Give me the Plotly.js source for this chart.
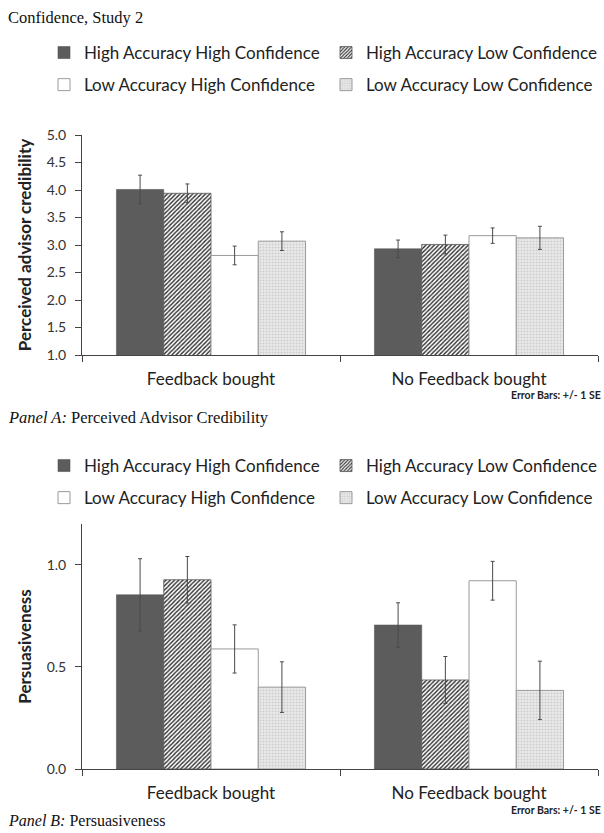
<!DOCTYPE html>
<html>
<head>
<meta charset="utf-8">
<script src="https://cdn.plot.ly/plotly-3.0.1.min.js"></script>
<style>
  html, body { margin: 0; padding: 0; background: #fff; }
  #chart { width: 604px; height: 833px; }
</style>
</head>
<body>
<div id="chart"></div>
<script>
// ---- data ----
const categories = ["Feedback bought", "No Feedback bought"];
const seriesNames = [
  "High Accuracy High Confidence",
  "High Accuracy Low Confidence",
  "Low Accuracy High Confidence",
  "Low Accuracy Low Confidence"
];
// Panel A: Perceived advisor credibility
const credHAHC = [4.01, 2.93];
const credHALC = [3.94, 3.01];
const credLAHC = [2.81, 3.17];
const credLALC = [3.07, 3.13];
const credErrHAHC = [0.26, 0.16];
const credErrHALC = [0.17, 0.17];
const credErrLAHC = [0.17, 0.14];
const credErrLALC = [0.17, 0.21];
// Panel B: Persuasiveness
const persHAHC = [0.853, 0.705];
const persHALC = [0.927, 0.436];
const persLAHC = [0.588, 0.922];
const persLALC = [0.401, 0.385];
const persErrHAHC = [0.177, 0.109];
const persErrHALC = [0.114, 0.115];
const persErrLAHC = [0.118, 0.095];
const persErrLALC = [0.124, 0.143];
const credTicks = [1, 1.5, 2, 2.5, 3, 3.5, 4, 4.5, 5];
const persTicks = [0, 0.5, 1];

// ---- styles ----
const styles = [
  { color: "#5c5c5c", line: { color: "#555", width: 0.6 } },
  { color: "#ffffff", line: { color: "#555", width: 0.8 },
    pattern: { shape: "/", fgcolor: "#2e2e2e", bgcolor: "#ffffff", size: 3, solidity: 0.45 } },
  { color: "#ffffff", line: { color: "#9a9a9a", width: 1 } },
  { color: "#e6e6e6", line: { color: "#9a9a9a", width: 1 },
    pattern: { shape: ".", fgcolor: "#cdcdcd", bgcolor: "#ebebeb", size: 3, solidity: 0.4 } }
];

const W = 604, H = 833;
const px = v => v / W;
const py = v => 1 - v / H;

// column 1 (legend / legend3): series 0 and 2; column 2 (legend2 / legend4): series 1 and 3
function mk(vals, errs, i, xa, ya, panelB) {
  const col2 = (i === 1 || i === 3);
  const legendId = panelB ? (col2 ? "legend4" : "legend3") : (col2 ? "legend2" : "legend");
  return {
    type: "bar",
    name: seriesNames[i],
    x: categories,
    y: vals,
    xaxis: xa, yaxis: ya,
    legend: legendId,
    legendgroup: (panelB ? "B" : "A") + i,
    marker: styles[i],
    error_y: { type: "data", array: errs, visible: true, color: "#4a4a4a", thickness: 1, width: 2 },
    hoverinfo: "y"
  };
}

const data = [
  mk(credHAHC, credErrHAHC, 0, "x", "y", false),
  mk(credHALC, credErrHALC, 1, "x", "y", false),
  mk(credLAHC, credErrLAHC, 2, "x", "y", false),
  mk(credLALC, credErrLALC, 3, "x", "y", false),
  mk(persHAHC, persErrHAHC, 0, "x2", "y2", true),
  mk(persHALC, persErrHALC, 1, "x2", "y2", true),
  mk(persLAHC, persErrLAHC, 2, "x2", "y2", true),
  mk(persLALC, persErrLALC, 3, "x2", "y2", true)
];

const sans = "Lato, 'Open Sans', sans-serif";
const serif = "'Liberation Serif', 'DejaVu Serif', serif";

const xCommon = {
  type: "category",
  domain: [px(82), px(598)],
  range: [-0.5, 1.5],
  tickson: "boundaries",
  ticks: "outside",
  ticklen: 6,
  tickcolor: "#444",
  ticklabelstandoff: 9,
  showline: true,
  linecolor: "#444",
  linewidth: 1,
  showgrid: false,
  zeroline: false,
  tickfont: { family: sans, size: 17, color: "#222" },
  fixedrange: true
};
const yCommon = {
  ticks: "outside",
  ticklen: 6,
  tickcolor: "#444",
  ticklabelstandoff: 6,
  showline: true,
  linecolor: "#444",
  linewidth: 1,
  showgrid: false,
  zeroline: false,
  tickformat: ".1f",
  tickfont: { family: sans, size: 14, color: "#333" },
  fixedrange: true
};

const legendCommon = {
  orientation: "v",
  xanchor: "left",
  yanchor: "top",
  font: { family: sans, size: 17, color: "#222" },
  bgcolor: "rgba(0,0,0,0)",
  borderwidth: 0,
  itemclick: false,
  itemdoubleclick: false,
  traceorder: "grouped",
  tracegroupgap: 7,
  itemwidth: 30
};

const layout = {
  width: W, height: H,
  margin: { l: 0, r: 0, t: 0, b: 0 },
  paper_bgcolor: "#fff",
  plot_bgcolor: "#fff",
  barmode: "group",
  bargap: 0.267,
  bargroupgap: 0,
  showlegend: true,
  xaxis: Object.assign({}, xCommon, { anchor: "y" }),
  yaxis: Object.assign({}, yCommon, {
    anchor: "x",
    domain: [py(355), py(135)],
    range: [1, 5],
    tickvals: credTicks,
    title: { text: "<b>Perceived advisor credibility</b>", font: { family: sans, size: 17, color: "#222" }, standoff: 10 }
  }),
  xaxis2: Object.assign({}, xCommon, { anchor: "y2" }),
  yaxis2: Object.assign({}, yCommon, {
    anchor: "x2",
    domain: [py(769), py(524)],
    range: [0, 1.2],
    tickvals: persTicks,
    title: { text: "<b>Persuasiveness</b>", font: { family: sans, size: 17, color: "#222" }, standoff: 10 }
  }),
  legend: Object.assign({}, legendCommon, { x: px(44), y: py(35) }),
  legend2: Object.assign({}, legendCommon, { x: px(326), y: py(35) }),
  legend3: Object.assign({}, legendCommon, { x: px(44), y: py(448) }),
  legend4: Object.assign({}, legendCommon, { x: px(326), y: py(448) }),
  annotations: [
    { text: "Confidence, Study 2", xref: "paper", yref: "paper", x: px(6), y: py(17),
      xanchor: "left", yanchor: "middle", showarrow: false,
      font: { family: serif, size: 16.5, color: "#111" } },
    { text: "<i>Panel A:</i> Perceived Advisor Credibility", xref: "paper", yref: "paper", x: px(6), y: py(417),
      xanchor: "left", yanchor: "middle", showarrow: false,
      font: { family: serif, size: 16.5, color: "#111" } },
    { text: "<i>Panel B:</i> Persuasiveness", xref: "paper", yref: "paper", x: px(6), y: py(831),
      xanchor: "left", yanchor: "bottom", showarrow: false,
      font: { family: serif, size: 16, color: "#111" } },
    { text: "<b>Error Bars: +/- 1 SE</b>", xref: "paper", yref: "paper", x: px(603), y: py(395),
      xanchor: "right", yanchor: "middle", showarrow: false,
      font: { family: sans, size: 10.5, color: "#222" } },
    { text: "<b>Error Bars: +/- 1 SE</b>", xref: "paper", yref: "paper", x: px(603), y: py(810),
      xanchor: "right", yanchor: "middle", showarrow: false,
      font: { family: sans, size: 10.5, color: "#222" } }
  ]
};

Plotly.newPlot("chart", data, layout, { displayModeBar: false, staticPlot: true });
</script>
</body>
</html>
